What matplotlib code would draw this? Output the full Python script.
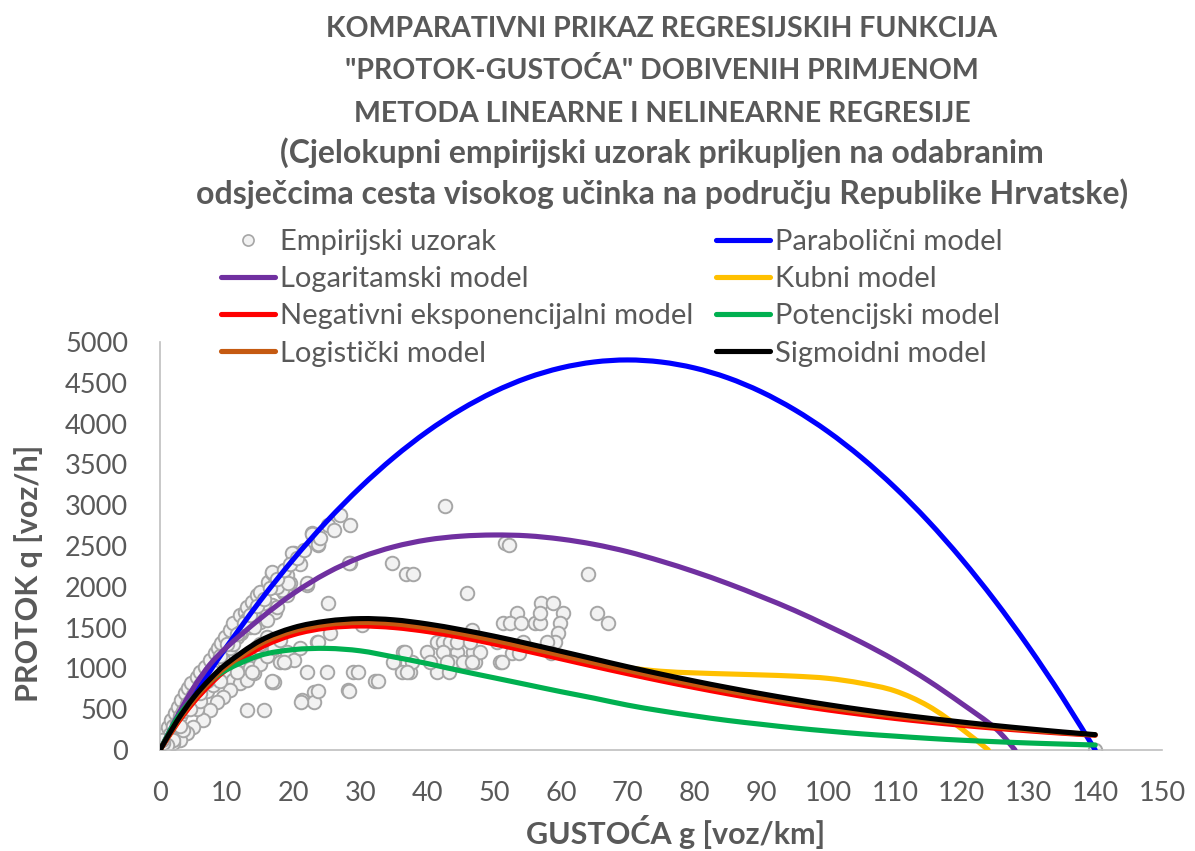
import matplotlib
matplotlib.use('Agg')
from matplotlib import pyplot as plt
from matplotlib.lines import Line2D
from matplotlib.path import Path
from matplotlib.patches import PathPatch

plt.rcParams['font.family'] = ['Lato', 'DejaVu Sans']

GRAY = '#595959'

# empirical sample, density g [voz/km] vs flow q [voz/h]
emp_g = [0.5, 0.7, 1.2, 1.7, 2.2, 2.7, 3.2, 3.7, 4.2, 4.7, 5.5, 6.0, 6.7, 7.5, 8.2, 8.7, 9.2, 9.7,
         10.5, 11.0, 12.0, 12.7, 13.0, 13.7, 14.5, 15.0, 16.2, 16.7, 17.2, 18.5, 19.0, 19.5, 20.0,
         22.0, 22.7, 23.7, 25.2, 26.9, 28.4, 28.4, 34.7, 25.2, 15.5, 16.7, 17.2, 11.5, 12.2, 13.5,
         15.0, 16.0, 9.0, 10.0, 11.0, 12.0, 13.0, 14.0, 10.5, 9.5, 8.5, 7.5, 6.5, 5.0, 4.0, 3.0,
         2.0, 13.0, 15.5, 16.7, 17.0, 22.0, 25.0, 23.0, 21.2, 23.0, 28.2, 23.5, 25.4, 18.0, 18.7,
         8.5, 11.5, 13.5, 14.5, 16.0, 12.5, 10.0, 14.0, 17.5, 18.2, 1.0, 1.5, 2.0, 2.5, 3.0, 3.5,
         4.0, 4.5, 5.0, 5.5, 6.0, 6.5, 7.0, 7.5, 8.0, 3.5, 5.5, 6.0, 7.0, 8.0, 9.5, 10.5, 11.0,
         12.0, 13.0, 14.0, 15.5, 17.5, 19.0, 21.0, 2.0, 1.0, 0.5, 0.3, 9.0, 11.5, 13.5, 15.0,
         16.0, 17.0, 18.0, 15.0, 19.0, 20.0, 21.0, 42.7, 22.7, 23.6, 19.8, 28.3, 36.9, 37.9, 51.6,
         46.0, 22.0, 19.2, 16.7, 13.7, 18.6, 23.6, 28.9, 29.7, 32.2, 32.7, 28.3, 23.6, 21.1, 16.8,
         30.2, 36.4, 35.1, 36.2, 37.4, 39.9, 41.4, 42.7, 44.4, 46.2, 46.9, 47.2, 41.4, 43.2, 43.7,
         50.9, 51.4, 42.4, 43.4, 44.4, 46.4, 46.7, 47.9, 42.4, 34.9, 37.7, 40.4, 42.9, 45.4, 46.7,
         36.7, 37.0, 52.3, 64.0, 57.0, 58.9, 53.4, 60.4, 65.4, 67.1, 52.4, 54.1, 56.1, 56.9, 59.9,
         56.9, 59.6, 59.1, 57.9, 54.4, 52.7, 53.7, 51.2, 58.6, 50.4, 140.0,
         3.0, 4.5, 6.0, 7.0, 8.0, 9.0, 10.0, 11.5, 12.5, 13.5, 14.5, 15.5, 16.5, 17.5, 18.5, 19.5,
         20.5, 21.5, 24.0, 26.0]
emp_q = [143, 204, 286, 368, 449, 531, 613, 694, 756, 817, 898, 960, 1020, 1103, 1184, 1245, 1307, 1388,
         1470, 1552, 1654, 1695, 1756, 1817, 1899, 1939, 2062, 2164, 2042, 1919, 1899, 2042, 2410,
         2021, 2654, 2511, 2756, 2879, 2756, 2287, 2287, 1797, 1715, 1776, 1695, 1388, 1429, 1511,
         1572, 1593, 1020, 939, 858, 817, 858, 939, 735, 653, 592, 490, 368, 286, 204, 123,
         82, 490, 490, 837, 837, 960, 960, 714, 613, 592, 735, 1327, 1429, 1082, 1082,
         858, 1020, 1184, 1266, 1388, 1103, 1184, 1511, 1756, 1960, 150, 200, 300, 330, 420, 480,
         560, 600, 680, 720, 800, 840, 900, 960, 1000, 250, 500, 600, 720, 800, 1100, 1250, 1300,
         1450, 1600, 1700, 1800, 2000, 2150, 2280, 120, 60, 80, 120, 850, 950, 1000, 1050,
         1150, 1250, 1350, 1300, 1200, 1100, 1250, 2993, 2646, 2520, 2410, 2295, 2156, 2156, 2536,
         1920, 2050, 2050, 2177, 960, 1082, 1327, 960, 960, 845, 845, 723, 723, 592, 849,
         1531, 1204, 1082, 960, 960, 1204, 1327, 1204, 1204, 1082, 1204, 1082, 960, 960, 1082,
         1082, 1552, 1327, 1327, 1327, 1327, 1470, 1204, 1204, 1082, 1082, 1082, 1082, 1082, 1082,
         1204, 960, 2511, 2156, 1797, 1797, 1675, 1675, 1675, 1552, 1552, 1552, 1552, 1552, 1552,
         1675, 1437, 1327, 1327, 1327, 1184, 1184, 1082, 1184, 1327, 0,
         300, 500, 700, 850, 950, 1150, 1300, 1420, 1560, 1650, 1760, 1850, 1990, 2100, 2200, 2280,
         2350, 2450, 2600, 2700]

# regression curves
g_grid = [0, 2.5, 5, 7.5, 10, 15, 20, 25, 30, 35, 40, 45, 50, 55, 60, 65, 70,
          75, 80, 85, 90, 95, 100, 105, 110, 115, 120, 125, 130, 135, 140]
q_parab = [0, 335, 658, 969, 1268, 1829, 2341, 2805, 3219, 3585, 3902, 4170, 4390, 4561, 4682, 4755, 4780,
           4755, 4682, 4561, 4390, 4170, 3902, 3585, 3219, 2805, 2341, 1829, 1268, 658, 0]
q_negexp = [0, 317, 583, 804, 987, 1253, 1414, 1496, 1520, 1501, 1452, 1383, 1300, 1211, 1118, 1025, 935,
            848, 766, 689, 617, 551, 491, 437, 387, 343, 303, 267, 235, 206, 181]
q_pot = [0, 380, 640, 840, 985, 1160, 1230, 1245, 1215, 1140, 1060, 970, 885, 800, 715, 635, 550,
         480, 418, 362, 315, 270, 232, 198, 170, 143, 120, 102, 86, 73, 61]
q_logist = [0, 335, 612, 840, 1025, 1298, 1458, 1538, 1563, 1547, 1497, 1428, 1345, 1256, 1162, 1068, 976,
            887, 803, 725, 652, 585, 523, 466, 414, 366, 323, 283, 247, 214, 184]
q_sigm = [0, 350, 640, 870, 1060, 1340, 1500, 1580, 1610, 1595, 1545, 1475, 1395, 1305, 1210, 1115, 1020,
          930, 845, 765, 690, 620, 555, 495, 440, 390, 343, 300, 260, 222, 188]

g_log = [0, 2.5, 5, 7.5, 10, 15, 20, 25, 30, 35, 40, 45, 50, 55, 60, 65, 70,
         75, 80, 85, 90, 95, 100, 105, 110, 115, 120, 125, 128]
q_log = [0, 400, 760, 1050, 1260, 1610, 1920, 2170, 2360, 2490, 2575, 2620, 2635, 2625, 2585, 2520, 2430,
         2315, 2185, 2040, 1880, 1710, 1520, 1320, 1100, 850, 570, 270, 0]

g_cub = [0, 2.5, 5, 7.5, 10, 15, 20, 25, 30, 35, 40, 45, 50, 55, 60, 65, 70,
         75, 80, 85, 90, 95, 100, 105, 110, 115, 120, 124]
q_cub = [0, 320, 590, 815, 1000, 1268, 1428, 1505, 1528, 1508, 1460, 1395, 1318, 1238, 1160, 1085, 1010,
         965, 945, 932, 920, 905, 878, 818, 725, 540, 260, 0]


def smooth_path(xs, ys):
    # Catmull-Rom through the points, as cubic Bezier segments (smoothed line)
    pts = list(zip(xs, ys))
    n = len(pts)
    verts = [pts[0]]
    codes = [Path.MOVETO]
    for i in range(n - 1):
        p0 = pts[max(i - 1, 0)]
        p1 = pts[i]
        p2 = pts[i + 1]
        p3 = pts[min(i + 2, n - 1)]
        c1 = (p1[0] + (p2[0] - p0[0]) / 6, p1[1] + (p2[1] - p0[1]) / 6)
        c2 = (p2[0] - (p3[0] - p1[0]) / 6, p2[1] - (p3[1] - p1[1]) / 6)
        verts += [c1, c2, p2]
        codes += [Path.CURVE4] * 3
    return Path(verts, codes)


fig = plt.figure(figsize=(11.95, 8.51), dpi=100)
W, H = 1195, 851
ax = fig.add_axes([160 / W, 1 - 750 / H, 1002 / W, 408 / H])

ax.scatter(emp_g, emp_q, s=95, facecolor='#f2f2f2', edgecolor='#a6a6a6', linewidth=1.4, zorder=2)

lw = 3.7
curves = [(g_grid, q_parab, '#0000ff'),
          (g_log, q_log, '#7030a0'),
          (g_cub, q_cub, '#ffc000'),
          (g_grid, q_negexp, '#ff0000'),
          (g_grid, q_pot, '#00b050'),
          (g_grid, q_logist, '#c55a11'),
          (g_grid, q_sigm, '#000000')]
for k, (gx, qy, c) in enumerate(curves):
    ax.add_patch(PathPatch(smooth_path(gx, qy), facecolor='none', edgecolor=c, linewidth=lw,
                           capstyle='round', joinstyle='round', zorder=3 + k * 0.1))

ax.set_xlim(0, 150)
ax.set_ylim(0, 5000)
ax.set_xticks(range(0, 151, 10))
ax.set_yticks(range(0, 5001, 500))
ax.tick_params(axis='both', length=0, labelsize=19.5, labelcolor=GRAY)
ax.tick_params(axis='x', pad=22)
ax.tick_params(axis='y', pad=23)
for s in ['top', 'right']:
    ax.spines[s].set_visible(False)
for s in ['left', 'bottom']:
    ax.spines[s].set_color('#bfbfbf')
    ax.spines[s].set_linewidth(1.2)
ax.patch.set_alpha(0)

title_lines = ['KOMPARATIVNI PRIKAZ REGRESIJSKIH FUNKCIJA',
               '"PROTOK-GUSTOĆA" DOBIVENIH PRIMJENOM',
               'METODA LINEARNE I NELINEARNE REGRESIJE',
               '(Cjelokupni empirijski uzorak prikupljen na odabranim',
               'odsječcima cesta visokog učinka na području Republike Hrvatske)']
title_sizes = [20.5, 20.5, 20.5, 23, 23]
baselines = [36.7, 79, 121.7, 163, 204.3]
for txt, fsz, b in zip(title_lines, title_sizes, baselines):
    fig.text(662 / W, 1 - b / H, txt, ha='center', va='baseline', fontsize=fsz,
             fontweight='bold', color=GRAY)

fig.text(676 / W, 1 - 844 / H, 'GUSTOĆA g [voz/km]', ha='center', va='baseline',
         fontsize=22, fontweight='bold', color=GRAY)
fig.text(29 / W, 1 - 573 / H, 'PROTOK q [voz/h]', ha='center', va='center', rotation=90,
         fontsize=22, fontweight='bold', color=GRAY)


def line_handle(c):
    return Line2D([], [], color=c, linewidth=lw, solid_capstyle='round')


emp_handle = Line2D([], [], linestyle='none', marker='o', markersize=8,
                    markerfacecolor='#f2f2f2', markeredgecolor='#a6a6a6', markeredgewidth=1.2)

col1 = [(emp_handle, 'Empirijski uzorak'),
        (line_handle('#7030a0'), 'Logaritamski model'),
        (line_handle('#ff0000'), 'Negativni eksponencijalni model'),
        (line_handle('#c55a11'), 'Logistički model')]
col2 = [(line_handle('#0000ff'), 'Parabolični model'),
        (line_handle('#ffc000'), 'Kubni model'),
        (line_handle('#00b050'), 'Potencijski model'),
        (line_handle('#000000'), 'Sigmoidni model')]

fs = 21
for items, x0 in [(col1, 221), (col2, 716)]:
    leg = fig.legend([h for h, _ in items], [t for _, t in items],
                     loc='upper left', bbox_to_anchor=(x0 / W, 1 - 229 / H),
                     frameon=False, fontsize=fs, borderpad=0, borderaxespad=0,
                     handlelength=1.85, handletextpad=0.17, labelspacing=0.385)
    for t in leg.get_texts():
        t.set_color(GRAY)

fig.savefig('out.png', dpi=100)
